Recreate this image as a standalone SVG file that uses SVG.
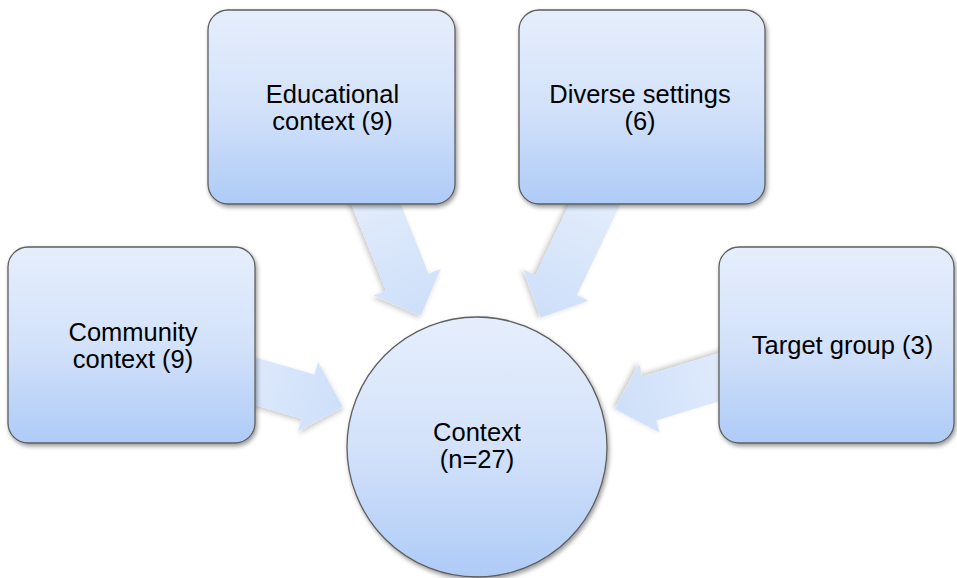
<svg xmlns="http://www.w3.org/2000/svg" width="957" height="578" viewBox="0 0 957 578">
<defs>
<linearGradient id="boxGrad" x1="0" y1="0" x2="0" y2="1">
<stop offset="0" stop-color="#e6eefc"/>
<stop offset="0.5" stop-color="#d3e2fa"/>
<stop offset="1" stop-color="#aecbf7"/>
</linearGradient>
<linearGradient id="arrowGrad" x1="0" y1="0" x2="1" y2="0">
<stop offset="0" stop-color="#e4edfc"/>
<stop offset="1" stop-color="#cddff9"/>
</linearGradient>
<filter id="shadow" x="-10%" y="-10%" width="125%" height="125%">
<feDropShadow dx="1.5" dy="2.5" stdDeviation="2" flood-color="#000" flood-opacity="0.4"/>
</filter>
<filter id="ashadow" x="-20%" y="-20%" width="140%" height="140%">
<feDropShadow dx="1.5" dy="2.5" stdDeviation="2.5" flood-color="#000" flood-opacity="0.22"/>
</filter>
</defs>
<style>
.box { fill: url(#boxGrad); stroke: #5e5e5e; stroke-width: 1.3; filter: url(#shadow); }
.arrow { fill: url(#arrowGrad); filter: url(#ashadow); }
.lbl { font-family: "Liberation Sans", Arial, sans-serif; font-size: 25.5px; fill: #000; text-anchor: middle; }
</style>
<rect width="957" height="578" fill="#ffffff"/>
<g id="connectors">
<path class="arrow" transform="translate(420.7,315.7) rotate(68.2)" d="M0,0 L-36,-36 L-36,-23 L-140,-23 L-140,23 L-36,23 L-36,36 Z"/>
<path class="arrow" transform="translate(540.7,317.7) rotate(115.5)" d="M0,0 L-36,-36 L-36,-23 L-140,-23 L-140,23 L-36,23 L-36,36 Z"/>
<path class="arrow" transform="translate(342.7,406.7) rotate(16.2)" d="M0,0 L-36,-36 L-36,-23 L-140,-23 L-140,23 L-36,23 L-36,36 Z"/>
<path class="arrow" transform="translate(615,409) rotate(163)" d="M0,0 L-36,-36 L-36,-23 L-140,-23 L-140,23 L-36,23 L-36,36 Z"/>
</g>
<g id="educational">
<rect class="box" x="208" y="10" width="247" height="194" rx="20" ry="20"/>
<text class="lbl" x="332.5" y="103">Educational</text>
<text class="lbl" x="332.5" y="130">context (9)</text>
</g>
<g id="diverse">
<rect class="box" x="519" y="10" width="246" height="194" rx="20" ry="20"/>
<text class="lbl" x="640" y="103">Diverse settings</text>
<text class="lbl" x="640" y="130">(6)</text>
</g>
<g id="community">
<rect class="box" x="8" y="247" width="247" height="196" rx="20" ry="20"/>
<text class="lbl" x="133" y="341">Community</text>
<text class="lbl" x="133" y="368">context (9)</text>
</g>
<g id="target">
<rect class="box" x="719" y="247" width="235" height="196" rx="20" ry="20"/>
<text class="lbl" x="842.5" y="354">Target group (3)</text>
</g>
<g id="context">
<circle class="box" cx="477" cy="447" r="130"/>
<text class="lbl" x="477" y="441">Context</text>
<text class="lbl" x="477" y="468">(n=27)</text>
</g>
</svg>
